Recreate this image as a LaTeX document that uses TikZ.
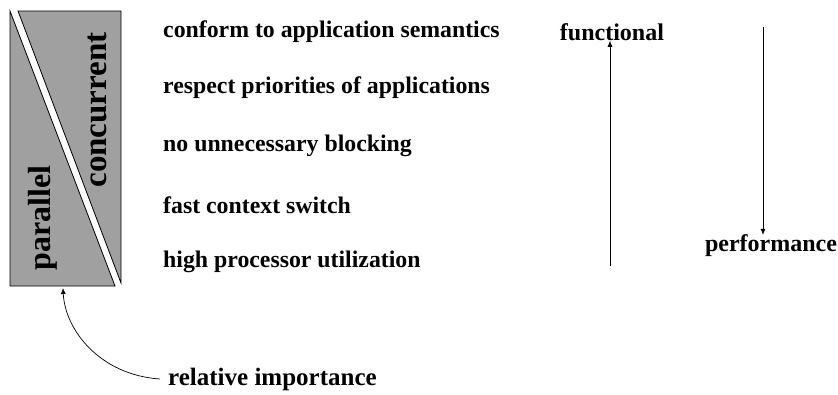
\documentclass[tikz,border=0pt]{standalone}
\usepackage{fontspec}
\setmainfont{Liberation Serif}
\usetikzlibrary{arrows.meta}
\definecolor{boxgray}{RGB}{160,160,160}
\begin{document}
\begin{tikzpicture}[x=1pt,y=-1pt,
  item/.style={anchor=west,font=\bfseries\fontsize{23.8}{26}\selectfont,inner sep=0pt},
  lab/.style={font=\bfseries\fontsize{24}{26}\selectfont,inner sep=0pt},
  side/.style={font=\bfseries\fontsize{32}{34}\selectfont,inner sep=0pt,rotate=90},
  piece/.style={fill=boxgray,draw=black,line width=0.8pt},
  arr/.style={-{Latex[length=6pt,width=5pt]},line width=0.7pt}]
\useasboundingbox (0,0) rectangle (838,394);
\path[piece] (10,11) -- (10,286) -- (115,286) -- cycle;
\path[piece] (18,11) -- (121,11) -- (121,283) -- cycle;
\node[side] (par) at (43,218) {parallel};
\node[side,font=\bfseries\fontsize{33}{35}\selectfont] (con) at (97,110) {concurrent};
\coordinate (boxbot) at (63,288);
\node[item] (i1) at (163,32) {conform to application semantics};
\node[item] (i2) at (163,88) {respect priorities of applications};
\node[item] (i3) at (163,146) {no unnecessary blocking};
\node[item] (i4) at (163,205) {fast context switch};
\node[item] (i5) at (163,262) {high processor utilization};
\node[lab] (fun) at (612,32) {functional};
\node[lab] (perf) at (771,246) {performance};
\coordinate (upstart) at (610,266);
\draw[arr] (upstart) -- (fun.south -| upstart);
\coordinate (downstart) at (763,27);
\draw[arr] (downstart) -- (perf.north -| downstart);
\node[lab,anchor=west,font=\bfseries\fontsize{25}{27}\selectfont] (rel) at (168,379) {relative importance};
\draw[arr] ([xshift=-8pt]rel.west) .. controls (100,375) and (65,330) .. (boxbot);
\end{tikzpicture}
\end{document}
